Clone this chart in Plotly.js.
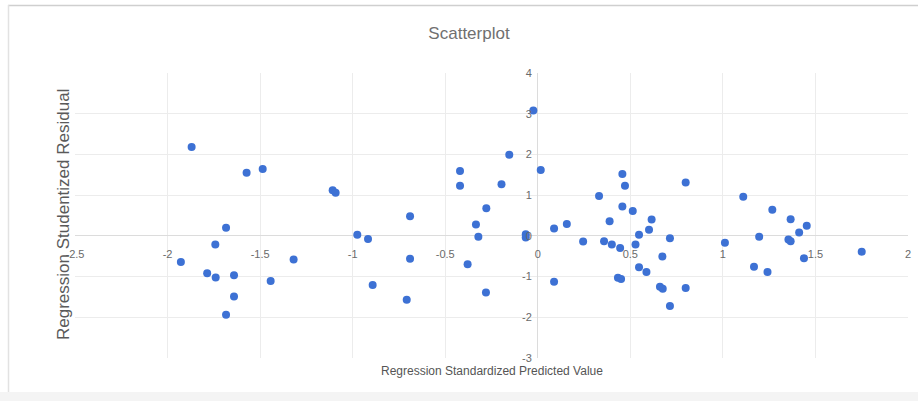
<!DOCTYPE html>
<html>
<head>
<meta charset="utf-8">
<script src="https://cdn.plot.ly/plotly-3.0.1.min.js"></script>
<style>html,body{margin:0;padding:0;background:#fff;}#chart{width:918px;height:401px;}</style>
</head>
<body>
<div id="chart"></div>
<script>
// Regression standardized predicted value (x) and studentized residual (y)
const predictedValue = [
  -1.870, -1.573, -1.486, -1.684, -1.742, -1.928, -1.786, -1.740, -1.641, -1.641,
  -1.684, -1.443, -1.319, -1.108, -1.092, -0.975, -0.917, -0.892, -0.690, -0.690,
  -0.708, -0.420, -0.420, -0.379, -0.334, -0.321, -0.278, -0.280, -0.196, -0.154,
  -0.024, -0.065, -0.065, 0.016, 0.088, 0.088, 0.157, 0.245, 0.331, 0.358,
  0.388, 0.400, 0.445, 0.433, 0.450, 0.457, 0.471, 0.457, 0.513, 0.615,
  0.601, 0.547, 0.528, 0.714, 0.673, 0.547, 0.587, 0.660, 0.675, 0.799,
  0.714, 0.799, 1.011, 1.110, 1.196, 1.168, 1.241, 1.267, 1.366, 1.354,
  1.366, 1.412, 1.453, 1.438, 1.750
];
const studentizedResidual = [
  2.18, 1.55, 1.64, 0.20, -0.21, -0.64, -0.92, -1.02, -0.97, -1.49,
  -1.94, -1.11, -0.58, 1.12, 1.06, 0.03, -0.08, -1.21, 0.48, -0.56,
  -1.57, 1.59, 1.23, -0.70, 0.28, -0.02, 0.68, -1.39, 1.27, 1.99,
  3.08, 0.04, -0.04, 1.62, 0.18, -1.13, 0.29, -0.14, 0.98, -0.13,
  0.36, -0.21, -0.30, -1.03, -1.06, 1.52, 1.23, 0.72, 0.61, 0.40,
  0.15, 0.03, -0.21, -0.06, -0.51, -0.77, -0.89, -1.25, -1.30, -1.28,
  -1.72, 1.31, -0.17, 0.96, -0.02, -0.76, -0.89, 0.64, 0.41, -0.09,
  -0.13, 0.08, 0.25, -0.55, -0.39
];
const xTickVals = [-2.5, -2, -1.5, -1, -0.5, 0, 0.5, 1, 1.5, 2];
const xTickText = ['-2.5', '-2', '-1.5', '-1', '-0.5', '0', '0.5', '1', '1.5', '2'];
const yTickVals = [-3, -2, -1, 0, 1, 2, 3, 4];
const yTickText = ['-3', '-2', '-1', '0', '1', '2', '3', '4'];

const W = 918, H = 401;
const M = {l: 75, r: 10, t: 73, b: 43};
const xRange = [-2.5, 2], yRange = [-3, 4];
const plotW = W - M.l - M.r, plotH = H - M.t - M.b;
// convert page pixels to paper coordinates for frame decoration
const px = v => (v - M.l) / plotW;
const py = v => (H - M.b - v) / plotH;

const FONT = '"Liberation Sans", Arial, sans-serif';

const trace = {
  type: 'scatter',
  mode: 'markers',
  x: predictedValue,
  y: studentizedResidual,
  marker: {color: '#3d71d4', size: 8, line: {width: 0}},
  hoverinfo: 'x+y',
  showlegend: false
};

const layout = {
  width: W, height: H,
  margin: M,
  paper_bgcolor: '#ffffff',
  plot_bgcolor: '#ffffff',
  font: {family: FONT, color: '#666'},
  title: {
    text: 'Scatterplot',
    font: {family: FONT, size: 17, color: '#707070'},
    x: 469 / W, xanchor: 'center', xref: 'container',
    y: 1 - 33 / H, yanchor: 'middle', yref: 'container'
  },
  xaxis: {
    range: xRange,
    tickvals: xTickVals, ticktext: xTickText,
    anchor: 'free',
    position: (0 - yRange[0]) / (yRange[1] - yRange[0]),
    showgrid: true, gridcolor: '#ececec', gridwidth: 1,
    zeroline: true, zerolinecolor: '#dcdcdc', zerolinewidth: 1,
    showline: false, ticks: '',
    ticklabelstandoff: 10,
    tickfont: {family: FONT, size: 11, color: '#6a6a6a'},
    fixedrange: true
  },
  yaxis: {
    range: yRange,
    tickvals: yTickVals, ticktext: yTickText,
    anchor: 'free',
    position: (0 - xRange[0]) / (xRange[1] - xRange[0]),
    showgrid: true, gridcolor: '#ececec', gridwidth: 1,
    zeroline: true, zerolinecolor: '#dcdcdc', zerolinewidth: 1,
    showline: false, ticks: '',
    ticklabelstandoff: 6,
    tickfont: {family: FONT, size: 11, color: '#6a6a6a'},
    fixedrange: true
  },
  annotations: [
    {
      text: 'Regression Standardized Predicted Value',
      xref: 'paper', yref: 'paper',
      x: 0.5, y: py(371), xanchor: 'center', yanchor: 'middle',
      showarrow: false,
      font: {family: FONT, size: 12, color: '#555'}
    },
    {
      text: 'Regression Studentized Residual',
      xref: 'paper', yref: 'paper',
      x: px(63), y: py(215), xanchor: 'center', yanchor: 'middle',
      textangle: -90,
      showarrow: false,
      font: {family: FONT, size: 17, color: '#5a5a5a'}
    }
  ],
  shapes: [
    {type: 'rect', xref: 'paper', yref: 'paper', layer: 'below',
     x0: px(0), x1: px(W), y0: py(392), y1: py(H),
     fillcolor: '#f4f4f4', line: {width: 0}},
    {type: 'line', xref: 'paper', yref: 'paper',
     x0: px(8), x1: px(W), y0: py(5.5), y1: py(5.5),
     line: {color: '#cfcfcf', width: 1.5}},
    {type: 'line', xref: 'paper', yref: 'paper',
     x0: px(8.5), x1: px(8.5), y0: py(5), y1: py(392),
     line: {color: '#e2e2e2', width: 1.5}}
  ]
};

Plotly.newPlot('chart', [trace], layout, {displayModeBar: false});
</script>
</body>
</html>
